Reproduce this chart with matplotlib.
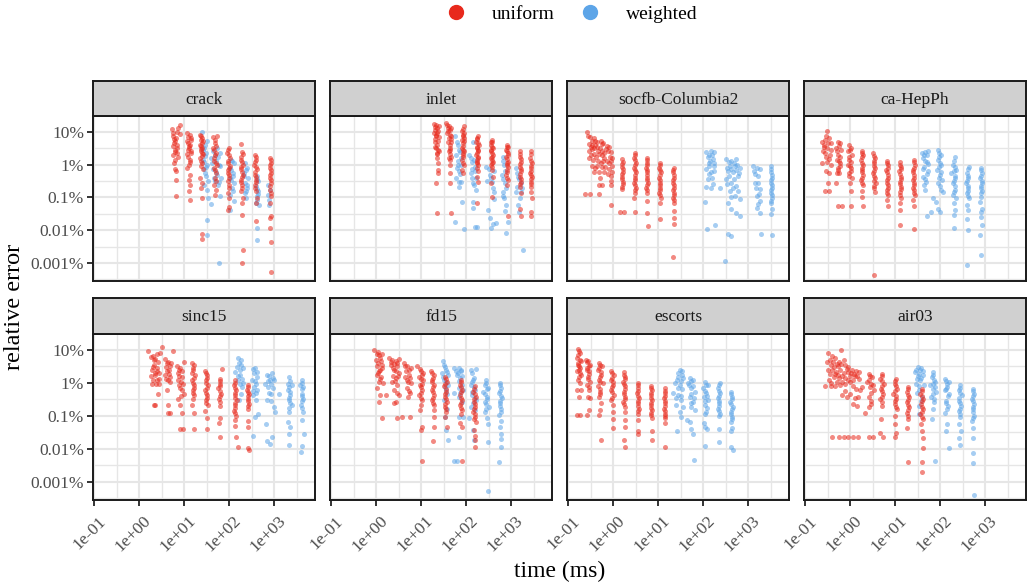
import matplotlib.pyplot as plt
import matplotlib.transforms as mtransforms
import numpy as np
from matplotlib.lines import Line2D

plt.rcParams['font.family'] = ['Liberation Serif', 'DejaVu Serif']

# points are (log10 time in ms, log10 relative error in %)
crack_uniform = [
    (0.73, 1.09), (0.76, 0.87), (0.80, 0.71), (0.84, 0.61), (0.76, 0.56), (0.80, 0.44), (0.75, 0.28), (0.80, 0.15),
    (0.80, -0.15), (0.81, -0.20), (0.81, -0.46), (0.81, -0.97), (0.91, 1.22), (0.87, 1.12), (0.84, 0.99), (0.91, 0.92),
    (0.78, 0.77), (0.85, 0.36), (0.74, 0.95), (0.82, 0.82), (0.77, 0.66), (0.83, 0.50), (0.79, 0.38), (0.86, 0.24),
    (0.77, 0.05),
    (1.06, 0.97), (1.12, 0.89), (1.15, 0.82), (1.07, 0.71), (1.13, 0.61), (1.10, 0.51), (1.15, 0.41), (1.06, 0.31),
    (1.12, 0.15), (1.10, 0.00), (1.12, -0.31), (1.10, -0.46), (1.13, -0.61), (1.10, -0.82), (1.12, -1.09),
    (1.08, 0.85), (1.14, 0.75), (1.09, 0.65), (1.11, 0.56), (1.08, 0.45), (1.14, 0.36), (1.09, 0.22), (1.13, 0.08),
    (1.07, -0.10),
    (1.36, 0.90), (1.39, 0.82), (1.41, 0.71), (1.36, 0.61), (1.40, 0.51), (1.37, 0.41), (1.41, 0.31), (1.36, 0.20),
    (1.39, 0.05), (1.38, -0.05), (1.36, -0.41), (1.39, -0.56), (1.38, -0.71), (1.39, -1.02), (1.39, -2.12), (1.39, -2.28),
    (1.38, 0.86), (1.37, 0.76), (1.40, 0.66), (1.38, 0.56), (1.37, 0.46), (1.39, 0.36), (1.40, 0.25), (1.37, 0.12),
    (1.41, -0.15),
    (1.65, 0.84), (1.73, 0.87), (1.69, 0.66), (1.65, 0.51), (1.71, 0.36), (1.67, 0.20), (1.71, 0.05), (1.66, -0.10),
    (1.70, -0.26), (1.68, -0.41), (1.67, -0.61), (1.70, -0.77), (1.69, -0.92), (1.68, 0.75), (1.71, 0.58), (1.66, 0.43),
    (1.69, 0.28), (1.67, 0.12), (1.72, -0.02), (1.68, -0.18), (1.70, -0.50),
    (1.99, 0.51), (1.96, 0.36), (2.01, 0.20), (1.97, 0.05), (2.00, -0.10), (1.98, -0.26), (1.99, -0.41), (1.99, -0.61),
    (1.97, -0.87), (1.99, -1.02), (1.99, -1.28), (1.98, -1.38), (1.98, 0.43), (2.00, 0.28), (1.97, 0.12), (2.01, -0.03),
    (1.98, -0.18), (2.00, -0.33), (1.98, -0.50), (2.00, -0.72),
    (2.26, 0.63), (2.30, 0.31), (2.26, 0.15), (2.30, 0.00), (2.27, -0.15), (2.30, -0.31), (2.27, -0.46), (2.29, -0.61),
    (2.26, -0.82), (2.30, -1.02), (2.28, -1.17), (2.28, -1.53), (2.30, -2.60), (2.28, -2.99), (2.28, 0.38), (2.27, 0.23),
    (2.29, 0.08), (2.27, -0.07), (2.29, -0.22), (2.28, -0.38), (2.27, -0.54), (2.29, -0.70),
    (2.58, 0.29), (2.60, 0.15), (2.56, 0.00), (2.61, -0.15), (2.57, -0.31), (2.60, -0.46), (2.58, -0.61), (2.59, -0.82),
    (2.61, -1.02), (2.59, -1.17), (2.60, -1.73), (2.59, 0.22), (2.58, 0.08), (2.60, -0.07), (2.58, -0.22), (2.60, -0.38),
    (2.59, -0.54), (2.58, -0.70),
    (2.91, 0.20), (2.93, 0.05), (2.90, -0.10), (2.93, -0.26), (2.90, -0.41), (2.93, -0.56), (2.91, -0.77), (2.93, -0.97),
    (2.91, -1.17), (2.93, -1.58), (2.91, -1.63), (2.91, -1.94), (2.93, -2.35), (2.93, -3.29), (2.92, 0.13), (2.91, -0.02),
    (2.92, -0.18), (2.91, -0.33), (2.92, -0.48), (2.91, -0.66), (2.92, -0.87),
]
crack_weighted = [
    (1.39, 0.99), (1.50, 0.71), (1.44, 0.51), (1.49, 0.36), (1.41, 0.15), (1.50, 0.00), (1.44, -0.15), (1.49, -0.36),
    (1.43, -0.61), (1.50, -0.77), (1.54, -1.02), (1.60, -1.20), (1.50, -1.68), (1.50, -2.16), (1.46, 0.60), (1.41, 0.43),
    (1.47, 0.26), (1.43, 0.07), (1.48, -0.07), (1.46, -0.25), (1.52, -0.50),
    (1.65, 0.41), (1.73, 0.51), (1.79, 0.36), (1.59, 0.20), (1.71, 0.10), (1.80, -0.05), (1.64, -0.15), (1.74, -0.31),
    (1.81, -0.41), (1.69, -0.51), (1.76, -0.61), (1.79, -0.95), (1.78, -2.99), (1.68, 0.30), (1.75, 0.22), (1.62, 0.05),
    (1.77, 0.00), (1.70, -0.22), (1.66, -0.40), (1.78, -0.52),
    (2.04, 0.15), (2.10, 0.05), (2.01, -0.10), (2.08, -0.26), (2.02, -0.41), (2.11, -0.56), (2.06, -0.71), (2.02, -0.92),
    (2.10, -1.12), (2.02, -1.38), (2.06, 0.10), (2.03, -0.18), (2.09, -0.34), (2.05, -0.48), (2.08, -0.80),
    (2.36, 0.05), (2.39, -0.10), (2.33, -0.26), (2.41, -0.41), (2.36, -0.56), (2.39, -0.71), (2.35, -0.87), (2.38, -1.02),
    (2.38, -0.18), (2.34, -0.35), (2.40, -0.62), (2.37, -0.80),
    (2.61, -0.36), (2.65, -0.51), (2.60, -0.66), (2.64, -0.82), (2.63, -0.97), (2.60, -1.17), (2.67, -1.22), (2.61, -1.94),
    (2.61, -2.30), (2.63, -0.45), (2.62, -0.74), (2.65, -0.90), (2.62, -1.07),
    (2.87, -0.61), (2.90, -0.77), (2.86, -0.92), (2.88, -1.07), (2.89, -1.22),
]

inlet_uniform = [
    (1.28, 1.24), (1.33, 1.21), (1.39, 1.16), (1.30, 1.06), (1.37, 1.01), (1.32, 0.91), (1.39, 0.83), (1.30, 0.68),
    (1.36, 0.60), (1.33, 0.50), (1.39, 0.42), (1.35, 0.32), (1.37, 0.04), (1.37, -0.16), (1.38, -0.27), (1.33, -0.55),
    (1.36, -1.47), (1.31, 0.78), (1.36, 1.12), (1.34, 0.20), (1.30, 1.14), (1.35, 0.96), (1.33, 0.86), (1.38, 0.72),
    (1.31, 0.55), (1.37, 0.45), (1.34, 0.36), (1.29, 0.95),
    (1.56, 1.27), (1.61, 1.16), (1.67, 1.11), (1.59, 1.01), (1.64, 0.91), (1.61, 0.81), (1.67, 0.70), (1.63, 0.60),
    (1.64, 0.50), (1.61, 0.40), (1.67, 0.24), (1.63, 0.14), (1.64, -0.01), (1.63, -0.27), (1.63, -0.57), (1.67, -1.47),
    (1.58, 1.20), (1.66, 0.86), (1.60, 1.10), (1.65, 1.04), (1.58, 0.95), (1.66, 0.78), (1.60, 0.70), (1.63, 0.45),
    (1.65, 0.33), (1.62, 0.20),
    (1.96, 1.16), (1.91, 1.01), (1.94, 0.91), (1.90, 0.76), (1.94, 0.65), (1.91, 0.50), (1.96, 0.40), (1.93, 0.30),
    (1.91, 0.14), (1.95, -0.01), (1.91, -0.16), (1.93, -0.27), (1.95, 0.82), (1.92, 0.58), (1.93, 1.08), (1.95, 0.96),
    (1.92, 0.86), (1.96, 0.71), (1.93, 0.45), (1.94, 0.35), (1.92, 0.22), (1.94, 0.06),
    (2.26, 0.86), (2.22, 0.70), (2.28, 0.60), (2.24, 0.50), (2.27, 0.40), (2.22, 0.30), (2.27, 0.19), (2.24, 0.09),
    (2.27, -0.01), (2.24, -0.11), (2.26, -0.21), (2.25, -0.37), (2.27, -0.52), (2.24, -1.18), (2.25, 0.78), (2.24, 0.82),
    (2.26, 0.65), (2.23, 0.55), (2.26, 0.45), (2.24, 0.35), (2.26, 0.24), (2.23, 0.14), (2.25, 0.04),
    (2.57, 0.76), (2.56, 0.60), (2.59, 0.50), (2.55, 0.40), (2.59, 0.30), (2.56, 0.19), (2.59, 0.09), (2.56, -0.01),
    (2.57, -0.16), (2.59, -0.37), (2.56, -0.57), (2.58, -0.98), (2.58, 0.68), (2.56, 0.70), (2.58, 0.55), (2.56, 0.45),
    (2.58, 0.35), (2.57, 0.24), (2.57, 0.14), (2.58, 0.04), (2.57, -0.08),
    (2.90, 0.60), (2.89, 0.45), (2.93, 0.35), (2.89, 0.24), (2.92, 0.09), (2.90, -0.01), (2.91, -0.16), (2.89, -0.32),
    (2.93, -0.47), (2.90, -0.62), (2.94, -1.56), (2.92, 0.52), (2.91, 0.55), (2.90, 0.40), (2.92, 0.29), (2.90, 0.17),
    (2.91, 0.04), (2.92, -0.08), (2.90, -0.24), (2.91, -0.40),
    (3.20, 0.40), (3.19, 0.24), (3.22, 0.09), (3.19, -0.06), (3.21, -0.21), (3.19, -0.37), (3.21, -0.52), (3.20, -0.67),
    (3.21, -0.88), (3.20, -1.34), (3.21, -1.56), (3.20, 0.33), (3.21, 0.16), (3.20, 0.02), (3.21, -0.13), (3.20, -0.29),
    (3.21, -0.44), (3.19, -0.60),
    (3.44, 0.40), (3.43, 0.19), (3.47, 0.04), (3.44, -0.11), (3.43, -0.27), (3.47, -0.37), (3.44, -0.52), (3.45, -0.67),
    (3.44, -0.83), (3.46, -1.01), (3.44, -1.44), (3.45, -1.56), (3.45, 0.32), (3.44, 0.12), (3.45, -0.04), (3.45, -0.19),
    (3.44, -0.32), (3.45, -0.45), (3.45, -0.60),
]
inlet_weighted = [
    (1.76, 0.86), (1.81, 0.60), (1.85, 0.45), (1.78, 0.30), (1.89, 0.19), (1.81, -0.01), (1.85, -0.21), (1.78, -0.42),
    (1.89, -0.52), (1.84, -0.67), (1.90, -1.13), (1.76, -1.74), (1.95, -1.98), (1.80, 0.70), (1.86, 0.38), (1.82, 0.10),
    (1.88, 0.00), (1.79, -0.10), (1.86, -0.30), (1.83, -0.52),
    (2.15, 0.70), (2.07, 0.30), (2.13, 0.09), (2.19, -0.06), (2.11, -0.27), (2.22, -0.42), (2.15, -0.57), (2.21, -0.78),
    (2.16, -1.13), (2.16, -1.32), (2.19, -1.91), (2.24, -1.89), (2.10, 0.20), (2.18, 0.15), (2.12, -0.15), (2.20, -0.20),
    (2.14, -0.40), (2.18, -0.62),
    (2.44, -0.06), (2.52, -0.32), (2.63, -0.21), (2.58, -0.52), (2.61, -0.83), (2.48, -1.39), (2.53, -1.62), (2.59, -1.80),
    (2.56, -1.93), (2.67, -1.77), (2.50, -0.15), (2.55, -0.40), (2.60, -0.70), (2.47, -0.50), (2.62, -1.05),
    (2.81, 0.24), (2.85, -0.01), (2.80, -0.32), (2.87, -0.57), (2.81, -0.83), (2.85, -1.03), (2.89, -1.23), (2.86, -1.41),
    (2.93, -1.74), (2.89, -2.10), (2.83, 0.10), (2.87, -0.20), (2.83, -0.45), (2.88, -0.70), (2.82, -0.95),
    (3.11, -0.11), (3.15, -0.37), (3.22, -0.57), (3.11, -0.83), (3.19, -1.03), (3.24, -0.72), (3.15, -1.23), (3.17, -1.44),
    (3.26, -2.61), (3.13, -0.25), (3.18, -0.45), (3.21, -0.85), (3.14, -0.68),
]

socfb_uniform = [
    (-0.58, 0.98), (-0.51, 0.83), (-0.47, 0.72), (-0.54, 0.62), (-0.40, 0.72), (-0.28, 0.72), (-0.25, 0.62), (-0.36, 0.52),
    (-0.47, 0.47), (-0.25, 0.42), (-0.17, 0.47), (-0.43, 0.32), (-0.32, 0.32), (-0.54, 0.21), (-0.21, 0.21), (-0.10, 0.52),
    (-0.06, 0.37), (-0.02, 0.21), (-0.10, 0.06), (-0.47, -0.04), (-0.36, -0.04), (-0.26, -0.07), (-0.32, -0.22), (-0.21, -0.24),
    (-0.10, -0.14), (-0.02, -0.24), (-0.06, -0.35), (-0.43, -0.22), (-0.32, -0.63), (-0.25, -0.63), (-0.06, -0.63), (-0.62, -0.91),
    (-0.51, -0.91), (-0.32, -0.91), (-0.06, -1.24), (-0.02, -0.04), (-0.04, -0.50), (-0.50, 0.55), (-0.40, 0.60), (-0.30, 0.50),
    (-0.20, 0.35), (-0.45, 0.15), (-0.35, 0.10), (-0.55, 0.40), (-0.15, 0.10), (-0.28, 0.05), (-0.56, 0.88), (-0.44, 0.80),
    (-0.36, 0.68), (-0.22, 0.66), (-0.48, 0.60), (-0.34, 0.42), (-0.14, 0.58), (-0.12, 0.40), (-0.42, 0.50), (-0.26, 0.28),
    (-0.50, 0.28), (-0.08, 0.24), (-0.38, 0.22), (-0.04, 0.10), (-0.24, 0.12), (-0.18, -0.06), (-0.40, -0.10), (-0.12, -0.30),
    (-0.30, -0.40),
    (0.20, 0.16), (0.19, 0.01), (0.22, -0.14), (0.19, -0.30), (0.20, -0.45), (0.22, -0.60), (0.19, -0.76), (0.16, -1.45),
    (0.24, -1.45), (0.21, 0.08), (0.19, -0.07), (0.21, -0.22), (0.20, -0.37), (0.21, -0.52), (0.20, -0.68),
    (0.49, 0.35), (0.46, 0.21), (0.50, 0.06), (0.47, -0.09), (0.50, -0.24), (0.49, -0.40), (0.46, -0.55), (0.50, -0.70),
    (0.49, -0.86), (0.47, -1.01), (0.49, -1.45), (0.48, 0.28), (0.49, 0.13), (0.48, -0.02), (0.49, -0.17), (0.48, -0.32),
    (0.49, -0.48), (0.48, -0.63), (0.49, -0.78),
    (0.75, 0.21), (0.76, 0.06), (0.72, -0.09), (0.76, -0.24), (0.74, -0.40), (0.77, -0.55), (0.72, -0.70), (0.75, -0.86),
    (0.74, -1.11), (0.76, -1.47), (0.77, -1.88), (0.74, 0.13), (0.75, -0.02), (0.74, -0.17), (0.75, -0.32), (0.74, -0.48),
    (0.75, -0.63), (0.74, -0.78),
    (1.04, 0.06), (1.02, -0.09), (1.06, -0.24), (1.02, -0.40), (1.05, -0.55), (1.04, -0.70), (1.02, -0.86), (1.06, -1.01),
    (1.04, -1.16), (1.04, -1.67), (1.03, 0.00), (1.04, -0.16), (1.03, -0.32), (1.04, -0.48), (1.03, -0.62), (1.04, -0.78),
    (1.03, -0.94),
    (1.34, -0.12), (1.32, -0.24), (1.35, -0.40), (1.32, -0.55), (1.36, -0.70), (1.34, -0.86), (1.32, -1.01), (1.34, -1.16),
    (1.36, -1.42), (1.35, -1.62), (1.36, -1.80), (1.33, -2.83), (1.33, -0.18), (1.34, -0.32), (1.33, -0.47), (1.34, -0.62),
    (1.33, -0.78), (1.35, -0.94), (1.34, -1.08),
]
socfb_weighted = [
    (2.07, 0.39), (2.18, 0.42), (2.25, 0.37), (2.10, 0.24), (2.22, 0.16), (2.14, 0.04), (2.25, 0.06), (2.07, -0.14),
    (2.18, -0.24), (2.10, -0.45), (2.22, -0.60), (2.37, -0.70), (2.07, -0.67), (2.18, -0.70), (2.04, -1.14), (2.08, -1.95),
    (2.27, -1.83), (2.12, 0.30), (2.20, 0.30), (2.16, 0.12), (2.24, -0.05), (2.12, -0.05), (2.20, -0.40), (2.14, -0.30),
    (2.24, -0.20),
    (2.51, 0.16), (2.63, 0.11), (2.74, 0.18), (2.59, -0.04), (2.70, -0.04), (2.81, -0.09), (2.55, -0.19), (2.66, -0.24),
    (2.78, -0.35), (2.51, -0.45), (2.63, -0.55), (2.74, -0.65), (2.59, -0.81), (2.70, -0.96), (2.55, -1.16), (2.81, -1.06),
    (2.63, -1.37), (2.74, -1.47), (2.81, -1.57), (2.55, -2.13), (2.63, -2.18), (2.49, -2.95), (2.57, 0.08), (2.68, 0.05),
    (2.76, 0.00), (2.53, -0.10), (2.61, -0.14), (2.72, -0.16), (2.80, -0.25), (2.57, -0.35), (2.68, -0.45), (2.53, -0.60),
    (2.66, -0.70), (2.77, -0.80), (2.61, -1.00),
    (3.10, -0.04), (3.19, -0.09), (3.26, -0.14), (3.22, -0.35), (3.15, -0.55), (3.26, -0.76), (3.19, -0.96), (3.26, -1.11),
    (3.19, -1.32), (3.26, -1.47), (3.28, -2.13), (3.14, -0.20), (3.22, -0.55), (3.18, -0.72), (3.24, -0.90), (3.21, -1.20),
    (3.16, -0.30),
    (3.52, -0.04), (3.50, -0.24), (3.54, -0.40), (3.51, -0.55), (3.54, -0.70), (3.51, -0.86), (3.53, -1.01), (3.50, -1.16),
    (3.54, -1.37), (3.52, -1.52), (3.54, -2.15), (3.52, -0.15), (3.53, -0.32), (3.52, -0.48), (3.53, -0.62), (3.52, -0.78),
    (3.53, -0.94), (3.52, -1.10),
]

hepph_uniform = [
    (-0.52, 1.01), (-0.62, 0.70), (-0.57, 0.76), (-0.47, 0.81), (-0.43, 0.65), (-0.59, 0.55), (-0.51, 0.50), (-0.57, 0.35),
    (-0.45, 0.30), (-0.62, 0.04), (-0.52, 0.09), (-0.42, -0.01), (-0.54, -0.19), (-0.47, -0.27), (-0.49, -0.57), (-0.57, -0.80),
    (-0.47, -0.80), (-0.30, -0.27), (-0.55, 0.88), (-0.49, 0.66), (-0.60, 0.42), (-0.44, 0.44), (-0.54, 0.22), (-0.48, 0.17),
    (-0.58, 0.60),
    (-0.28, 0.70), (-0.22, 0.65), (-0.32, 0.50), (-0.21, 0.45), (-0.27, 0.30), (-0.30, 0.14), (-0.22, 0.04), (-0.28, -0.11),
    (-0.25, -0.27), (-0.32, -0.57), (-0.28, -1.27), (-0.19, -1.27), (-0.25, 0.58), (-0.29, 0.40), (-0.24, 0.22), (-0.26, 0.10),
    (-0.23, -0.05), (-0.27, -0.18),
    (-0.02, 0.60), (0.01, 0.50), (-0.06, 0.40), (0.03, 0.30), (-0.02, 0.14), (-0.06, -0.01), (0.01, -0.11), (-0.02, -0.27),
    (0.03, -0.42), (0.00, -0.57), (0.01, -0.80), (0.01, -1.27), (0.00, 0.45), (-0.03, 0.22), (0.02, 0.07), (-0.01, -0.05),
    (0.01, -0.20), (-0.03, -0.35),
    (0.26, 0.42), (0.28, 0.30), (0.24, 0.14), (0.29, -0.01), (0.25, -0.16), (0.28, -0.32), (0.24, -0.47), (0.28, -0.62),
    (0.26, -0.80), (0.25, -0.98), (0.28, -1.27), (0.27, 0.36), (0.26, 0.22), (0.27, 0.06), (0.25, -0.09), (0.27, -0.24),
    (0.26, -0.40), (0.27, -0.55),
    (0.50, 0.35), (0.54, 0.19), (0.52, 0.04), (0.55, -0.11), (0.51, -0.27), (0.54, -0.42), (0.57, -0.57), (0.52, -0.72),
    (0.54, -0.83), (0.52, -3.36), (0.53, 0.27), (0.52, 0.12), (0.53, -0.03), (0.52, -0.19), (0.53, -0.35), (0.52, -0.50),
    (0.53, -0.65),
    (0.82, 0.11), (0.83, -0.01), (0.80, -0.16), (0.85, -0.32), (0.82, -0.47), (0.83, -0.62), (0.81, -0.78), (0.83, -0.93),
    (0.82, -1.08), (0.83, -1.27), (0.82, 0.05), (0.83, -0.09), (0.82, -0.24), (0.83, -0.40), (0.82, -0.55), (0.83, -0.70),
    (0.82, -0.86),
    (1.11, 0.07), (1.13, -0.06), (1.09, -0.21), (1.12, -0.37), (1.10, -0.52), (1.13, -0.67), (1.10, -0.83), (1.12, -1.01),
    (1.11, -1.18), (1.10, -1.39), (1.11, -1.85), (1.11, 0.00), (1.12, -0.14), (1.11, -0.29), (1.12, -0.45), (1.11, -0.60),
    (1.12, -0.75), (1.11, -0.92),
    (1.41, 0.14), (1.43, -0.01), (1.39, -0.16), (1.42, -0.32), (1.40, -0.47), (1.41, -0.62), (1.41, -0.78), (1.43, -0.93),
    (1.40, -1.08), (1.41, -1.27), (1.41, -1.97), (1.41, 0.07), (1.42, -0.09), (1.40, -0.24), (1.41, -0.40), (1.42, -0.55),
    (1.40, -0.70), (1.41, -0.86),
]
hepph_weighted = [
    (1.59, 0.35), (1.67, 0.38), (1.74, 0.40), (1.61, 0.19), (1.71, 0.09), (1.65, -0.06), (1.74, -0.21), (1.61, -0.37),
    (1.69, -0.52), (1.64, -0.62), (1.67, -0.78), (1.84, -1.03), (1.91, -1.13), (1.80, -1.44), (1.71, -1.56), (1.63, 0.28),
    (1.70, 0.30), (1.66, 0.12), (1.73, 0.02), (1.62, -0.15), (1.70, -0.30), (1.66, -0.45),
    (1.95, 0.43), (2.01, 0.30), (1.96, 0.14), (2.02, -0.01), (1.93, -0.16), (1.99, -0.32), (2.04, -0.47), (1.95, -0.57),
    (2.01, -0.78), (2.06, -0.83), (1.95, -1.34), (1.99, -1.44), (1.98, 0.36), (1.97, 0.22), (2.00, 0.06), (1.97, -0.08),
    (2.02, -0.24), (1.97, -0.40), (2.00, -0.65),
    (2.32, 0.24), (2.28, -0.01), (2.36, -0.16), (2.25, -0.27), (2.32, -0.42), (2.28, -0.57), (2.33, -0.78), (2.28, -0.93),
    (2.36, -1.03), (2.30, -1.18), (2.32, -1.39), (2.30, -1.54), (2.30, -1.93), (2.30, 0.10), (2.33, -0.08), (2.30, -0.20),
    (2.34, -0.35), (2.30, -0.50), (2.33, -0.65), (2.31, -0.85),
    (2.64, -0.06), (2.59, -0.27), (2.63, -0.42), (2.58, -0.57), (2.62, -0.72), (2.60, -0.88), (2.64, -1.03), (2.59, -1.23),
    (2.62, -1.39), (2.60, -1.66), (2.62, -2.00), (2.59, -3.05), (2.61, -0.15), (2.62, -0.35), (2.60, -0.50), (2.62, -0.65),
    (2.61, -0.80), (2.62, -0.95),
    (2.90, -0.09), (2.93, -0.27), (2.88, -0.42), (2.94, -0.57), (2.90, -0.72), (2.91, -0.88), (2.89, -1.13), (2.93, -1.34),
    (2.90, -1.44), (2.91, -1.59), (2.92, -1.85), (2.89, -2.15), (2.90, -2.77), (2.91, -0.18), (2.90, -0.35), (2.92, -0.50),
    (2.90, -0.65), (2.92, -0.80), (2.90, -0.98),
]

sinc15_uniform = [
    (0.19, 0.98), (0.26, 0.78), (0.32, 0.69), (0.39, 0.88), (0.45, 0.90), (0.50, 1.08), (0.33, 0.54), (0.39, 0.44),
    (0.28, 0.39), (0.36, 0.23), (0.43, 0.29), (0.30, 0.10), (0.39, 0.08), (0.28, -0.05), (0.38, -0.05), (0.43, -0.05),
    (0.41, -0.35), (0.32, -0.68), (0.36, -0.68), (0.30, 0.80), (0.36, 0.72), (0.42, 0.62), (0.31, 0.48), (0.40, 0.36),
    (0.34, 0.30), (0.26, 0.20), (0.44, 0.12),
    (0.58, 0.71), (0.65, 0.64), (0.70, 0.59), (0.75, 0.95), (0.60, 0.49), (0.67, 0.39), (0.58, 0.23), (0.69, 0.18),
    (0.63, 0.08), (0.61, -0.22), (0.65, -0.68), (0.63, -0.91), (0.69, -0.91), (0.62, 0.60), (0.68, 0.52), (0.62, 0.36),
    (0.66, 0.28), (0.60, 0.12), (0.68, 0.02),
    (0.84, 0.51), (0.91, 0.44), (0.99, 0.64), (0.87, 0.29), (0.95, 0.18), (0.87, 0.08), (0.97, -0.02), (0.91, -0.17),
    (0.99, -0.33), (0.87, -0.48), (0.91, -0.68), (0.95, -0.92), (0.91, -1.39), (0.97, -1.39), (0.89, 0.38), (0.95, 0.35),
    (0.89, 0.20), (0.93, 0.02), (0.89, -0.08), (0.95, -0.22), (0.93, -0.40),
    (1.17, 0.59), (1.22, 0.54), (1.19, 0.39), (1.24, 0.23), (1.17, 0.08), (1.22, -0.07), (1.19, -0.22), (1.21, -0.38),
    (1.17, -0.68), (1.22, -0.92), (1.21, -1.39), (1.20, 0.46), (1.18, 0.30), (1.21, 0.15), (1.19, 0.00), (1.21, -0.15),
    (1.19, -0.30), (1.20, -0.50),
    (1.47, 0.37), (1.50, 0.23), (1.48, 0.08), (1.53, -0.07), (1.47, -0.22), (1.50, -0.38), (1.49, -0.53), (1.52, -0.68),
    (1.47, -0.84), (1.50, -1.06), (1.50, -1.39), (1.49, 0.30), (1.51, 0.15), (1.49, 0.00), (1.51, -0.15), (1.49, -0.30),
    (1.51, -0.45), (1.49, -0.60),
    (1.84, 0.41), (1.79, 0.13), (1.80, -0.02), (1.76, -0.17), (1.81, -0.33), (1.78, -0.48), (1.80, -0.71), (1.79, -1.06),
    (1.78, -1.22), (1.80, -1.65), (1.80, 0.05), (1.79, -0.10), (1.80, -0.25), (1.79, -0.40), (1.80, -0.58),
    (2.13, 0.08), (2.10, -0.07), (2.16, -0.22), (2.12, -0.38), (2.17, -0.53), (2.13, -0.68), (2.10, -0.84), (2.15, -0.99),
    (2.12, -1.14), (2.13, -1.30), (2.16, -1.65), (2.19, -1.94), (2.13, 0.00), (2.14, -0.15), (2.13, -0.30), (2.14, -0.45),
    (2.13, -0.60), (2.14, -0.76), (2.13, -0.92),
    (2.43, -0.07), (2.39, -0.22), (2.45, -0.33), (2.41, -0.48), (2.44, -0.63), (2.42, -0.79), (2.41, -1.33), (2.43, -1.96),
    (2.44, -2.04), (2.42, -0.14), (2.43, -0.28), (2.42, -0.40), (2.43, -0.55), (2.42, -0.70), (2.43, -1.15),
]
sinc15_weighted = [
    (2.19, 0.74), (2.26, 0.69), (2.13, 0.34), (2.23, 0.39), (2.30, 0.44), (2.19, 0.08), (2.28, -0.12), (2.26, -0.33),
    (2.22, -0.53), (2.30, 0.00), (2.22, 0.60), (2.27, 0.54), (2.17, 0.48), (2.25, 0.25), (2.20, 0.20), (2.28, 0.12),
    (2.24, -0.05),
    (2.53, 0.41), (2.58, 0.44), (2.61, 0.18), (2.50, 0.08), (2.56, -0.12), (2.63, -0.22), (2.54, -0.38), (2.60, -0.53),
    (2.65, -0.94), (2.58, -1.04), (2.54, -1.60), (2.56, 0.30), (2.62, 0.32), (2.58, 0.06), (2.60, -0.04), (2.52, -0.25),
    (2.60, -0.30),
    (2.84, 0.23), (2.95, 0.29), (2.90, 0.08), (2.80, -0.02), (2.99, 0.08), (2.87, -0.12), (2.93, -0.33), (2.84, -0.53),
    (2.99, -0.73), (3.02, -0.89), (2.82, -1.24), (2.95, -1.65), (2.91, -1.86), (2.84, -1.76), (3.10, -0.33), (2.88, 0.20),
    (2.97, 0.15), (2.86, 0.05), (2.92, -0.05), (2.98, -0.15), (2.88, -0.30), (2.94, -0.55),
    (3.34, 0.18), (3.32, -0.02), (3.39, -0.07), (3.30, -0.22), (3.36, -0.38), (3.33, -0.53), (3.39, -0.68), (3.34, -0.89),
    (3.30, -1.19), (3.36, -1.35), (3.33, -1.55), (3.34, -1.88), (3.35, 0.05), (3.33, -0.12), (3.36, -0.28), (3.33, -0.45),
    (3.36, -0.60), (3.34, -0.76),
    (3.61, 0.08), (3.58, -0.07), (3.65, -0.12), (3.61, -0.33), (3.64, -0.48), (3.59, -0.68), (3.65, -0.89), (3.61, -1.14),
    (3.67, -1.55), (3.61, -1.91), (3.60, -2.11), (3.62, 0.00), (3.61, -0.20), (3.63, -0.40), (3.61, -0.56), (3.63, -0.76),
]

fd15_uniform = [
    (-0.05, 0.99), (0.01, 0.86), (0.06, 0.83), (0.13, 0.86), (-0.01, 0.70), (0.10, 0.65), (0.02, 0.50), (0.13, 0.45),
    (0.06, 0.35), (0.01, 0.24), (0.11, 0.19), (0.06, 0.04), (0.16, -0.01), (0.02, -0.16), (0.08, -0.37), (0.21, -0.37),
    (0.07, -0.57), (0.12, -1.08), (0.04, 0.92), (0.09, 0.75), (0.03, 0.60), (0.12, 0.55), (0.08, 0.40), (0.04, 0.30),
    (0.09, 0.12),
    (0.28, 0.76), (0.36, 0.70), (0.43, 0.65), (0.51, 0.72), (0.32, 0.55), (0.47, 0.50), (0.40, 0.40), (0.51, 0.30),
    (0.43, 0.14), (0.36, 0.04), (0.47, -0.06), (0.40, -0.21), (0.51, -0.37), (0.43, -0.57), (0.47, -1.08), (0.40, -0.60),
    (0.33, 0.64), (0.40, 0.58), (0.46, 0.60), (0.37, 0.45), (0.44, 0.35), (0.38, 0.22), (0.49, 0.20), (0.42, 0.05),
    (0.45, -0.30),
    (0.62, 0.60), (0.69, 0.52), (0.77, 0.45), (0.66, 0.35), (0.73, 0.24), (0.68, 0.09), (0.78, -0.01), (0.69, -0.16),
    (0.75, -0.32), (0.71, -0.42), (0.58, -1.05), (0.75, -1.05), (0.65, 0.50), (0.72, 0.40), (0.64, 0.18), (0.75, 0.14),
    (0.70, 0.02), (0.72, -0.25),
    (0.90, 0.50), (0.99, 0.35), (1.05, 0.30), (0.96, 0.19), (1.03, 0.09), (0.98, -0.06), (1.01, -0.21), (0.96, -0.37),
    (1.02, -0.52), (0.99, -0.67), (0.98, -0.83), (1.01, -1.34), (0.99, -1.42), (1.02, -2.36), (0.97, 0.42), (1.02, 0.25),
    (0.99, 0.12), (1.01, -0.02), (0.99, -0.14), (1.00, -0.30), (0.99, -0.45),
    (1.22, 0.35), (1.28, 0.24), (1.23, 0.09), (1.29, -0.06), (1.25, -0.21), (1.28, -0.37), (1.24, -0.52), (1.29, -0.67),
    (1.28, -0.83), (1.28, -1.05), (1.28, -1.34), (1.26, -1.77), (1.25, 0.30), (1.27, 0.16), (1.25, 0.02), (1.27, -0.14),
    (1.26, -0.29), (1.27, -0.45), (1.26, -0.60),
    (1.53, 0.19), (1.57, 0.04), (1.51, -0.11), (1.56, -0.27), (1.53, -0.42), (1.57, -0.57), (1.52, -0.72), (1.56, -0.88),
    (1.54, -1.05), (1.57, -1.34), (1.55, 0.12), (1.54, -0.04), (1.55, -0.19), (1.54, -0.34), (1.55, -0.50), (1.54, -0.65),
    (1.55, -0.80),
    (1.89, 0.09), (1.87, -0.06), (1.91, -0.21), (1.87, -0.37), (1.90, -0.52), (1.86, -0.67), (1.91, -0.83), (1.87, -1.23),
    (1.90, -1.34), (1.90, -2.36), (1.88, 0.02), (1.89, -0.14), (1.88, -0.29), (1.89, -0.45), (1.88, -0.60), (1.89, -0.75),
    (1.88, -0.95),
    (2.19, -0.11), (2.16, -0.27), (2.21, -0.42), (2.17, -0.57), (2.20, -0.72), (2.16, -0.88), (2.19, -1.03), (2.21, -1.18),
    (2.17, -1.44), (2.19, -1.62), (2.20, -1.74), (2.19, -1.93), (2.18, -0.19), (2.19, -0.35), (2.18, -0.50), (2.19, -0.65),
    (2.18, -0.80), (2.19, -0.95), (2.18, -1.10),
]
fd15_weighted = [
    (1.48, 0.65), (1.50, 0.55), (1.46, 0.30), (1.55, 0.40), (1.60, 0.24), (1.51, 0.09), (1.59, -0.06), (1.55, -0.21),
    (1.51, -0.52), (1.57, -0.78), (1.53, -1.05), (1.55, -1.44), (1.59, -1.74), (1.74, 0.45), (1.78, 0.35), (1.52, 0.48),
    (1.57, 0.32), (1.49, 0.18), (1.56, 0.02), (1.52, -0.12), (1.58, -0.35),
    (1.85, 0.45), (1.89, 0.35), (1.80, 0.24), (1.87, 0.14), (1.74, -0.32), (1.85, -0.16), (1.93, -0.21), (1.85, -0.42),
    (1.90, -0.57), (1.83, -1.03), (1.93, -1.03), (1.85, -1.64), (1.74, -2.38), (1.80, -2.38), (1.88, 0.40), (1.82, 0.30),
    (1.90, 0.20), (1.84, 0.05), (1.90, -0.08), (1.87, -0.30),
    (2.11, 0.40), (2.21, 0.42), (2.15, 0.09), (2.10, -0.06), (2.19, -0.21), (2.13, -0.37), (2.22, -0.52), (2.10, -0.72),
    (2.19, -0.83), (2.15, -1.44), (2.17, -1.74), (2.07, -1.08), (2.14, 0.30), (2.18, 0.15), (2.12, 0.02), (2.17, -0.12),
    (2.13, -0.28), (2.20, -0.45), (2.15, -0.60),
    (2.45, 0.09), (2.41, -0.06), (2.49, -0.16), (2.37, -0.27), (2.47, -0.42), (2.43, -0.57), (2.50, -0.72), (2.41, -0.88),
    (2.47, -1.08), (2.49, -1.26), (2.49, -1.80), (2.49, -3.28), (2.44, 0.00), (2.46, -0.20), (2.42, -0.35), (2.46, -0.50),
    (2.44, -0.65), (2.45, -0.80),
    (2.75, -0.01), (2.77, -0.16), (2.72, -0.32), (2.80, -0.47), (2.75, -0.62), (2.78, -0.78), (2.74, -0.98), (2.78, -1.15),
    (2.75, -1.34), (2.77, -1.54), (2.78, -1.69), (2.78, -1.95), (2.72, -2.41), (2.76, -0.08), (2.75, -0.24), (2.77, -0.40),
    (2.76, -0.55), (2.76, -0.70), (2.77, -0.88),
]

escorts_uniform = [
    (-0.78, 1.03), (-0.74, 0.91), (-0.81, 0.76), (-0.72, 0.65), (-0.78, 0.55), (-0.74, 0.45), (-0.80, 0.35), (-0.72, 0.24),
    (-0.78, 0.09), (-0.74, -0.01), (-0.81, -0.21), (-0.71, -0.21), (-0.76, -0.42), (-0.81, -0.98), (-0.74, -0.98),
    (-0.76, 0.96), (-0.79, 0.85), (-0.75, 0.70), (-0.79, 0.60), (-0.76, 0.50), (-0.77, 0.40), (-0.75, 0.30), (-0.77, 0.18),
    (-0.61, 0.70), (-0.56, 0.65), (-0.51, 0.55), (-0.59, 0.45), (-0.54, 0.35), (-0.57, 0.19), (-0.51, 0.04), (-0.59, -0.06),
    (-0.54, -0.21), (-0.57, -0.42), (-0.51, -0.47), (-0.59, -0.98), (-0.54, -0.83), (-0.58, 0.62), (-0.53, 0.50), (-0.58, 0.40),
    (-0.53, 0.28), (-0.56, 0.12), (-0.55, -0.12),
    (-0.31, 0.60), (-0.26, 0.50), (-0.35, 0.40), (-0.28, 0.24), (-0.31, 0.09), (-0.24, -0.01), (-0.35, -0.11), (-0.29, -0.27),
    (-0.31, -0.42), (-0.28, -0.62), (-0.29, -0.83), (-0.31, -0.98), (-0.28, -1.72), (-0.30, 0.55), (-0.32, 0.45), (-0.27, 0.33),
    (-0.30, 0.17), (-0.29, 0.03), (-0.30, -0.18), (-0.29, -0.35),
    (-0.04, 0.35), (0.01, 0.24), (-0.05, 0.09), (-0.01, -0.06), (-0.04, -0.21), (0.01, -0.37), (-0.04, -0.52), (0.00, -0.67),
    (-0.01, -0.88), (-0.01, -1.11), (-0.01, -1.37), (-0.02, 0.30), (-0.03, 0.16), (-0.01, 0.02), (-0.03, -0.14), (-0.02, -0.29),
    (-0.03, -0.45),
    (0.23, 0.32), (0.26, 0.19), (0.22, 0.04), (0.27, -0.11), (0.23, -0.27), (0.26, -0.42), (0.22, -0.57), (0.27, -0.72),
    (0.25, -0.88), (0.25, -1.13), (0.26, -1.34), (0.23, -1.72), (0.25, -1.93), (0.24, 0.25), (0.25, 0.12), (0.24, -0.04),
    (0.25, -0.19), (0.24, -0.35), (0.25, -0.50), (0.24, -0.65),
    (0.54, -0.01), (0.56, -0.16), (0.53, -0.32), (0.57, -0.47), (0.54, -0.62), (0.57, -0.78), (0.54, -0.93), (0.56, -1.13),
    (0.54, -1.46), (0.56, -1.56), (0.55, -0.08), (0.55, -0.24), (0.55, -0.40), (0.55, -0.55), (0.55, -0.70), (0.55, -0.86),
    (0.84, -0.09), (0.86, -0.21), (0.83, -0.37), (0.87, -0.52), (0.84, -0.67), (0.87, -0.83), (0.84, -0.98), (0.86, -1.08),
    (0.86, -1.46), (0.86, -1.72), (0.85, -0.15), (0.85, -0.30), (0.85, -0.45), (0.85, -0.60), (0.85, -0.75), (0.85, -0.90),
    (1.14, -0.16), (1.16, -0.32), (1.13, -0.47), (1.15, -0.62), (1.13, -0.78), (1.16, -0.93), (1.14, -1.08), (1.14, -1.23),
    (1.14, -1.93), (1.14, -0.24), (1.15, -0.40), (1.14, -0.55), (1.15, -0.70), (1.14, -0.86), (1.15, -1.00),
]
escorts_weighted = [
    (1.48, 0.40), (1.53, 0.35), (1.44, 0.19), (1.55, 0.14), (1.37, -0.01), (1.48, -0.06), (1.33, -0.32), (1.44, -0.37),
    (1.51, -0.52), (1.40, -0.67), (1.55, -0.72), (1.48, -0.88), (1.50, -1.03), (1.63, -1.13), (1.42, -1.46), (1.45, 0.30),
    (1.52, 0.25), (1.41, 0.10), (1.50, 0.05), (1.44, -0.15), (1.52, -0.20), (1.40, -0.45), (1.50, -0.40),
    (1.70, 0.14), (1.78, 0.09), (1.66, -0.01), (1.74, -0.16), (1.81, -0.27), (1.70, -0.42), (1.78, -0.57), (1.72, -0.72),
    (1.81, -0.83), (1.70, -1.18), (1.74, -1.39), (1.78, -1.54), (1.80, -2.33), (1.73, 0.05), (1.68, -0.08), (1.77, -0.10),
    (1.73, -0.35), (1.79, -0.45), (1.73, -0.60),
    (2.04, 0.04), (2.10, -0.06), (2.00, -0.16), (2.07, -0.32), (2.02, -0.42), (2.11, -0.52), (2.04, -0.67), (2.07, -0.88),
    (2.02, -1.23), (2.05, -1.34), (2.08, -1.39), (2.04, -1.91), (2.07, -0.08), (2.03, -0.24), (2.09, -0.40), (2.03, -0.56),
    (2.09, -0.75), (2.05, -0.95),
    (2.37, -0.01), (2.34, -0.16), (2.38, -0.32), (2.32, -0.47), (2.36, -0.62), (2.34, -0.78), (2.37, -0.93), (2.35, -1.01),
    (2.35, -1.39), (2.35, -1.78), (2.36, -0.08), (2.35, -0.25), (2.36, -0.40), (2.35, -0.55), (2.36, -0.70), (2.35, -0.85),
    (2.62, -0.27), (2.65, -0.42), (2.60, -0.57), (2.66, -0.72), (2.62, -0.88), (2.65, -1.03), (2.61, -1.18), (2.64, -1.36),
    (2.63, -1.47), (2.62, -1.95), (2.67, -2.05), (2.63, -0.35), (2.64, -0.50), (2.63, -0.65), (2.64, -0.80), (2.63, -0.95),
    (2.64, -1.10),
]

air03_uniform = [
    (-0.50, 0.90), (-0.41, 0.82), (-0.20, 1.00), (-0.33, 0.74), (-0.26, 0.64), (-0.15, 0.69), (-0.52, 0.64), (-0.44, 0.54),
    (-0.37, 0.49), (-0.27, 0.51), (-0.11, 0.54), (-0.04, 0.47), (-0.50, 0.38), (-0.41, 0.38), (-0.32, 0.33), (-0.22, 0.38),
    (-0.15, 0.30), (-0.05, 0.33), (0.04, 0.38), (0.13, 0.36), (0.19, 0.33), (-0.57, -0.11), (-0.44, -0.11), (-0.33, -0.11),
    (-0.22, -0.08), (-0.11, -0.03), (0.00, 0.03), (0.07, 0.08), (0.19, 0.13), (-0.48, 0.08), (-0.37, 0.18), (-0.26, 0.16),
    (-0.11, 0.16), (0.00, 0.20), (0.11, 0.20), (-0.19, -0.38), (-0.07, -0.42), (0.00, -0.33), (0.07, -0.64), (0.15, -0.69),
    (0.17, -0.44), (-0.41, -1.65), (-0.26, -1.65), (-0.15, -1.65), (-0.04, -1.65), (0.07, -1.65), (0.17, -1.65), (0.22, -0.23),
    (0.26, -0.13), (0.33, -0.90), (-0.45, 0.70), (-0.38, 0.62), (-0.30, 0.58), (-0.20, 0.56), (-0.08, 0.42), (0.02, 0.30),
    (-0.45, 0.26), (-0.35, 0.26), (-0.28, 0.24), (-0.18, 0.22), (0.08, 0.27), (0.16, 0.22), (-0.42, 0.00), (-0.30, 0.02),
    (-0.18, 0.04), (-0.06, 0.08), (0.05, -0.10), (0.12, -0.20), (-0.12, -0.25), (0.10, -0.45),
    (0.41, 0.28), (0.48, 0.18), (0.37, 0.03), (0.44, -0.13), (0.52, -0.23), (0.41, -0.44), (0.47, -0.64), (0.42, -0.74),
    (0.50, -0.08), (0.41, -1.65), (0.50, -1.65), (0.44, 0.20), (0.42, 0.10), (0.46, -0.02), (0.45, -0.30), (0.47, -0.55),
    (0.70, 0.28), (0.67, 0.13), (0.74, -0.03), (0.69, -0.18), (0.72, -0.33), (0.67, -0.49), (0.70, -0.69), (0.69, -1.10),
    (0.72, -1.65), (0.67, -1.51), (0.70, 0.20), (0.71, 0.05), (0.70, -0.10), (0.71, -0.25), (0.70, -0.42), (0.71, -0.58),
    (1.01, 0.13), (0.99, -0.03), (1.04, -0.18), (0.96, -0.33), (1.01, -0.49), (0.99, -0.64), (1.03, -0.79), (0.99, -1.00),
    (1.00, -1.26), (1.01, -1.51), (1.00, -1.65), (1.00, 0.05), (1.01, -0.10), (1.00, -0.25), (1.01, -0.40), (1.00, -0.56),
    (1.01, -0.72),
    (1.28, -0.13), (1.26, -0.28), (1.30, -0.44), (1.27, -0.59), (1.30, -0.74), (1.27, -0.90), (1.29, -1.10), (1.27, -1.36),
    (1.28, -2.41), (1.28, -0.20), (1.29, -0.36), (1.28, -0.52), (1.29, -0.66), (1.28, -0.82), (1.29, -1.00),
    (1.59, -0.18), (1.56, -0.33), (1.62, -0.49), (1.58, -0.64), (1.61, -0.79), (1.56, -0.95), (1.61, -1.10), (1.58, -1.26),
    (1.59, -1.46), (1.62, -1.67), (1.61, -1.97), (1.59, -2.41), (1.59, -2.69), (1.59, -0.25), (1.60, -0.40), (1.59, -0.56),
    (1.60, -0.72), (1.59, -0.88), (1.60, -1.02),
]
air03_weighted = [
    (1.50, 0.47), (1.58, 0.44), (1.44, 0.33), (1.53, 0.28), (1.61, 0.23), (1.48, 0.13), (1.56, 0.08), (1.46, -0.03),
    (1.63, -0.08), (1.52, -0.23), (1.59, -0.44), (1.53, -0.69), (1.52, -0.95), (1.47, 0.40), (1.55, 0.38), (1.62, 0.35),
    (1.50, 0.20), (1.58, 0.16), (1.54, -0.10), (1.49, -0.32), (1.57, -0.55),
    (1.85, 0.33), (1.81, 0.18), (1.89, 0.03), (1.78, -0.08), (1.85, -0.18), (1.90, -0.28), (1.80, -0.44), (1.87, -0.59),
    (1.83, -0.79), (1.81, -1.10), (1.89, -2.36), (1.83, 0.25), (1.87, 0.10), (1.83, -0.02), (1.88, -0.14), (1.83, -0.35),
    (1.86, -0.50),
    (2.11, 0.13), (2.19, 0.03), (2.15, -0.13), (2.10, -0.23), (2.20, -0.33), (2.13, -0.54), (2.17, -0.69), (2.11, -0.90),
    (2.16, -1.26), (2.13, -1.46), (2.19, -1.97), (2.14, 0.06), (2.16, -0.05), (2.13, -0.18), (2.17, -0.40), (2.13, -0.62),
    (2.16, -0.80),
    (2.44, -0.08), (2.41, -0.23), (2.48, -0.38), (2.42, -0.54), (2.47, -0.69), (2.41, -0.85), (2.44, -1.05), (2.43, -1.26),
    (2.47, -1.46), (2.43, -1.67), (2.44, -1.89), (2.44, -0.15), (2.45, -0.30), (2.43, -0.46), (2.45, -0.62), (2.44, -0.78),
    (2.45, -0.95),
    (2.72, -0.18), (2.75, -0.33), (2.70, -0.49), (2.76, -0.64), (2.72, -0.79), (2.75, -1.00), (2.70, -1.15), (2.73, -1.36),
    (2.73, -1.67), (2.72, -2.13), (2.72, -2.44), (2.76, -3.39), (2.73, -0.25), (2.74, -0.40), (2.72, -0.56), (2.74, -0.72),
    (2.73, -0.88), (2.74, -1.08),
]

graphs = ['crack', 'inlet', 'socfb-Columbia2', 'ca-HepPh', 'sinc15', 'fd15', 'escorts', 'air03']
uniform = [crack_uniform, inlet_uniform, socfb_uniform, hepph_uniform,
           sinc15_uniform, fd15_uniform, escorts_uniform, air03_uniform]
weighted = [crack_weighted, inlet_weighted, socfb_weighted, hepph_weighted,
            sinc15_weighted, fd15_weighted, escorts_weighted, air03_weighted]

x_ticks = [1e-1, 1e0, 1e1, 1e2, 1e3]
x_tick_labels = ['1e-01', '1e+00', '1e+01', '1e+02', '1e+03']
y_ticks = [1e-1, 1e-2, 1e-3, 1e-4, 1e-5]
y_tick_labels = ['10%', '1%', '0.1%', '0.01%', '0.001%']

red = '#E8291C'
blue = '#5DA5E8'
dark = '#1A1A1A'
grid = '#E6E6E6'

W, H = 1028, 586
fig = plt.figure(figsize=(W / 100, H / 100), dpi=100)


def box(left, top, right, bottom):
    return [left / W, 1 - bottom / H, (right - left) / W, (bottom - top) / H]


lefts = [93, 330, 567, 804]
rows = [(81, 116, 281), (298, 334, 500)]  # strip top, panel top, panel bottom
label_shift = mtransforms.ScaledTranslation(4 / 100, -4 / 100, fig.dpi_scale_trans)

for i, name in enumerate(graphs):
    r, c = divmod(i, 4)
    strip_top, top, bottom = rows[r]
    left = lefts[c]
    right = left + 222

    ax = fig.add_axes(box(left, top, right, bottom))
    for pts, col in [(weighted[i], blue), (uniform[i], red)]:
        arr = np.array(pts)
        ax.scatter(10 ** arr[:, 0], 10 ** arr[:, 1] / 100, s=13, color=col,
                   alpha=0.55, linewidths=0, zorder=3)
    ax.set_xscale('log')
    ax.set_yscale('log')
    ax.set_xlim(10 ** -1.03, 10 ** 3.91)
    ax.set_ylim(10 ** -5.55, 10 ** -0.52)

    ax.set_xticks(x_ticks)
    ax.set_xticks([10 ** v for v in (-0.5, 0.5, 1.5, 2.5, 3.5)], minor=True)
    ax.set_yticks(y_ticks)
    ax.set_yticks([10 ** v for v in (-1.5, -2.5, -3.5, -4.5, -5.5)], minor=True)
    ax.grid(True, which='major', color=grid, lw=1.5, zorder=0)
    ax.grid(True, which='minor', color=grid, lw=1.0, zorder=0)
    ax.set_axisbelow(True)
    ax.tick_params(which='minor', length=0)
    ax.tick_params(which='major', length=4, width=1.4, color='#333333',
                   labelsize=12.5, labelcolor='#4D4D4D', pad=2.5)
    for s in ax.spines.values():
        s.set_color(dark)
        s.set_linewidth(1.4)

    if c == 0:
        ax.set_yticklabels(y_tick_labels)
    else:
        ax.set_yticklabels([])
        ax.tick_params(axis='y', which='major', length=0)
    if r == 1:
        ax.set_xticklabels(x_tick_labels, rotation=45, ha='right', va='top',
                           rotation_mode='anchor')
        for lab in ax.get_xticklabels():
            lab.set_transform(lab.get_transform() + label_shift)
    else:
        ax.set_xticklabels([])
        ax.tick_params(axis='x', which='major', length=0)

    sax = fig.add_axes(box(left, strip_top, right, top))
    sax.set_facecolor('#D0D0D0')
    sax.set_xticks([])
    sax.set_yticks([])
    for s in sax.spines.values():
        s.set_color(dark)
        s.set_linewidth(1.4)
    sax.text(0.5, 0.47, name, ha='center', va='center', fontsize=12.5,
             color=dark, transform=sax.transAxes)

fig.text(15 / W, 1 - 307 / H, 'relative error', rotation=90, ha='center',
         va='center', fontsize=17.5, color='black')
fig.text(560 / W, 1 - 571 / H, 'time (ms)', ha='center', va='center',
         fontsize=17, color='black')

handles = [Line2D([], [], marker='o', ls='', color=red, markersize=10),
           Line2D([], [], marker='o', ls='', color=blue, markersize=10)]
fig.legend(handles, ['uniform', 'weighted'], loc='center', ncol=2,
           bbox_to_anchor=(572 / W, 1 - 14 / H), frameon=False, fontsize=14,
           handletextpad=1.35, columnspacing=1.3, handlelength=1.0)

fig.savefig('out.png', dpi=100)
